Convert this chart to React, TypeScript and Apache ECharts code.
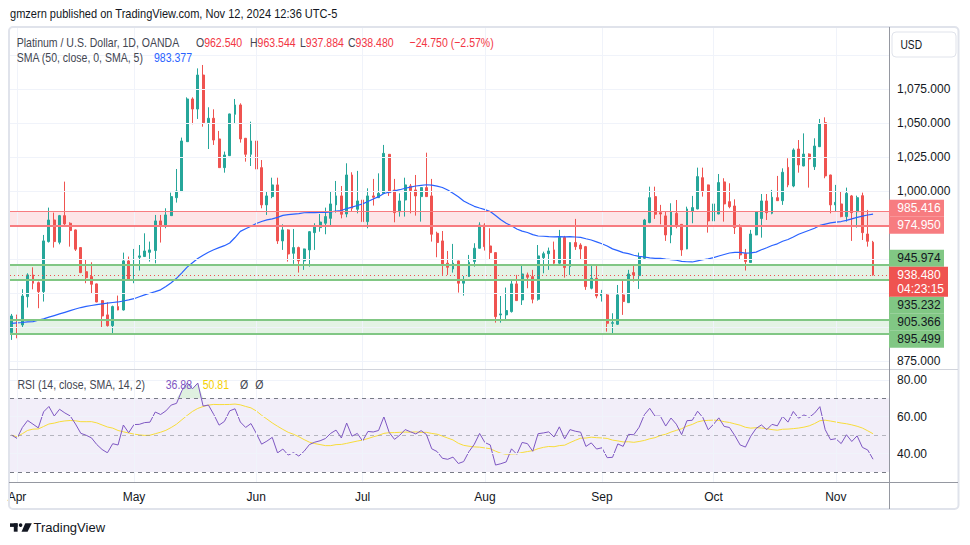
import React, { useEffect, useRef } from 'react';
import * as echarts from 'echarts';

// ---------- calendar (weekday trading sessions) ----------
function weekdays(from: string, to: string): string[] {
  const out: string[] = [];
  const d = new Date(from + 'T00:00:00Z');
  const end = new Date(to + 'T00:00:00Z');
  while (d <= end) {
    const wd = d.getUTCDay();
    if (wd !== 0 && wd !== 6) out.push(d.toISOString().slice(0, 10));
    d.setUTCDate(d.getUTCDate() + 1);
  }
  return out;
}
const dates = weekdays('2024-03-29', '2024-11-12');

// ---------- OHLC ----------
const open = [896.1, 907.8, 901.7, 922.5, 938.5, 932.8, 926.2, 963.0, 978.9, 962.5,
  982.1, 976.5, 971.6, 958.6, 940.9, 937.3, 931.9, 919.6, 909.1, 901.2,
  915.2, 912.7, 948.8, 934.8, 951.5, 952.0, 955.1, 956.4, 978.2, 974.8,
  982.1, 995.3, 999.8, 1036.5, 1067.9, 1060.5, 1085.5, 1050.5, 1053.7, 1038.5,
  1017.4, 1026.2, 1056.6, 1063.5, 1039.0, 1027.2, 1037.0, 1017.4, 990.0, 996.1,
  1004.7, 963.5, 971.6, 954.4, 958.6, 948.8, 956.9, 969.6, 973.3, 976.5,
  980.1, 990.0, 996.6, 983.3, 1012.0, 986.8, 993.6, 977.7, 996.6, 995.3,
  998.5, 1027.2, 1001.0, 985.0, 993.6, 1003.9, 1001.0, 996.1, 1002.7, 996.6,
  969.1, 963.5, 947.1, 942.9, 948.8, 932.4, 937.3, 948.3, 958.1, 975.2,
  959.8, 954.9, 909.1, 909.1, 911.5, 931.9, 920.1, 938.5, 937.3, 920.6,
  951.2, 954.1, 956.9, 947.1, 966.1, 944.6, 962.3, 960.5, 959.3, 928.7,
  936.0, 923.3, 923.8, 902.9, 902.2, 923.8, 918.1, 940.2, 938.0, 950.7,
  977.0, 996.1, 984.3, 981.9, 967.9, 983.8, 975.7, 957.6, 985.5, 987.0,
  1010.0, 1004.7, 978.2, 983.3, 1006.9, 992.4, 989.2, 973.3, 954.1, 947.6,
  967.9, 980.0, 992.9, 983.8, 995.3, 993.1, 1017.6, 1003.9, 1031.1, 1018.6,
  1027.4, 1018.1, 1032.8, 1050.5, 1012.0, 990.0, 990.7, 981.4, 996.6, 985.0,
  996.8, 968.6, 962.54];

const high = [909.8, 909.3, 928.0, 939.7, 944.1, 933.6, 967.9, 988.0, 984.3, 982.6,
  1007.1, 977.2, 971.9, 959.0, 949.5, 947.8, 932.2, 919.9, 918.4, 915.9,
  923.3, 954.9, 952.0, 957.6, 960.5, 969.1, 963.0, 982.6, 982.6, 987.5,
  999.0, 1016.4, 1039.5, 1069.1, 1069.1, 1090.4, 1092.9, 1061.8, 1060.3, 1044.4,
  1029.2, 1057.1, 1067.9, 1064.7, 1039.2, 1051.2, 1048.8, 1023.0, 999.8, 1010.0,
  1010.0, 975.7, 972.1, 972.3, 959.3, 957.8, 970.8, 976.5, 983.3, 988.0,
  1000.2, 1007.6, 1003.9, 1020.6, 1014.0, 1015.0, 997.3, 1002.2, 1009.1, 1013.2,
  1034.1, 1027.4, 1009.1, 998.5, 1010.0, 1005.4, 1012.0, 1002.9, 1028.4, 1009.1,
  970.3, 970.8, 956.1, 961.3, 949.0, 937.7, 953.2, 961.8, 977.2, 976.5,
  972.8, 955.1, 923.0, 929.2, 934.3, 938.5, 945.1, 940.2, 942.2, 960.5,
  955.6, 958.6, 963.0, 971.6, 967.2, 962.5, 979.7, 961.8, 959.8, 945.3,
  945.8, 927.5, 925.0, 910.3, 931.1, 935.3, 942.2, 945.8, 954.9, 979.7,
  1003.4, 1003.4, 990.0, 985.0, 991.2, 993.6, 975.9, 988.7, 996.6, 1017.4,
  1017.4, 1004.9, 1000.2, 1012.7, 1009.6, 1005.9, 994.1, 975.7, 957.6, 971.6,
  985.2, 998.0, 998.0, 1001.0, 1011.3, 1016.9, 1024.3, 1031.6, 1037.7, 1042.6,
  1027.9, 1039.0, 1053.2, 1054.4, 1012.2, 1004.7, 1000.2, 1002.7, 997.3, 996.8,
  999.0, 986.3, 963.544];

const low = [890.7, 891.9, 899.8, 914.5, 927.9, 914.0, 918.9, 962.3, 958.6, 961.0,
  975.2, 959.3, 956.1, 939.8, 932.4, 925.0, 918.4, 899.8, 900.5, 894.9,
  912.5, 912.3, 934.6, 932.4, 941.7, 951.8, 948.3, 947.0, 962.3, 972.8,
  981.9, 991.7, 999.6, 1036.3, 1049.3, 1053.2, 1047.5, 1031.1, 1034.1, 1017.2,
  1013.7, 1026.0, 1050.0, 1035.8, 1021.8, 1018.6, 1016.2, 987.5, 982.6, 994.9,
  961.3, 956.9, 948.3, 946.6, 940.2, 942.2, 944.6, 956.9, 970.3, 968.4,
  974.0, 984.3, 980.1, 980.9, 985.0, 983.8, 971.1, 972.8, 989.5, 995.1,
  998.3, 996.6, 977.2, 981.4, 981.4, 983.8, 982.1, 977.7, 995.9, 963.0,
  951.5, 938.5, 938.5, 940.2, 925.5, 923.3, 937.1, 944.6, 957.9, 956.4,
  950.2, 903.4, 903.4, 905.9, 910.8, 919.4, 916.4, 928.7, 917.6, 919.6,
  939.7, 942.2, 945.3, 946.6, 936.5, 938.5, 956.9, 950.2, 927.5, 927.9,
  921.3, 918.9, 896.8, 895.1, 901.7, 909.1, 917.9, 933.6, 928.2, 950.2,
  976.5, 979.7, 975.7, 963.5, 961.8, 972.8, 952.5, 957.4, 976.5, 986.8,
  996.1, 969.6, 975.7, 983.1, 977.7, 987.5, 968.6, 949.5, 941.7, 947.4,
  967.7, 965.9, 978.9, 983.1, 992.9, 990.0, 1003.0, 1003.0, 1013.7, 1018.4,
  1002.7, 1015.7, 1032.6, 1009.6, 983.8, 985.0, 980.9, 977.7, 963.5, 973.3,
  964.2, 959.3, 937.884];

const close = [908.3, 902.2, 923.0, 938.5, 932.4, 926.2, 963.5, 978.9, 963.0, 982.1,
  976.0, 971.1, 957.4, 940.2, 936.5, 931.6, 918.6, 908.3, 901.2, 915.2,
  912.7, 948.8, 934.8, 952.0, 952.5, 956.1, 956.9, 978.2, 974.8, 982.6,
  996.1, 1000.2, 1037.0, 1067.9, 1060.5, 1085.5, 1050.5, 1053.7, 1037.7, 1017.4,
  1026.7, 1056.9, 1063.5, 1038.5, 1027.2, 1037.0, 1016.4, 990.0, 996.6, 1004.7,
  963.5, 971.6, 953.9, 958.6, 948.8, 957.6, 970.3, 974.8, 977.4, 981.4,
  990.7, 996.6, 983.1, 1012.0, 987.5, 992.9, 977.7, 996.6, 995.6, 998.5,
  1027.9, 999.0, 984.3, 992.9, 1004.7, 1000.5, 996.6, 1002.7, 996.1, 968.4,
  962.3, 946.6, 944.1, 947.1, 932.4, 934.8, 947.8, 958.1, 975.2, 959.3,
  954.9, 907.8, 909.8, 912.3, 931.9, 919.6, 939.2, 936.8, 920.6, 952.5,
  954.1, 956.1, 947.1, 966.1, 943.9, 962.3, 959.3, 957.6, 929.9, 936.0,
  923.0, 925.0, 902.9, 903.4, 923.8, 918.9, 939.2, 938.5, 952.0, 978.9,
  995.3, 983.1, 983.3, 967.9, 985.0, 975.2, 956.9, 987.0, 988.0, 1010.8,
  1000.2, 978.2, 990.7, 1006.4, 990.7, 988.7, 973.3, 953.2, 948.3, 968.6,
  985.0, 992.9, 984.3, 995.6, 993.1, 1014.0, 1004.7, 1030.4, 1019.4, 1027.4,
  1023.8, 1033.3, 1049.5, 1011.3, 990.0, 991.9, 981.4, 998.5, 984.3, 995.3,
  969.6, 963.23, 938.48];

// SMA(50) as drawn before enough history exists in this window
const smaEarly = [902.9, 903.2, 903.5, 903.9, 904.2, 905.2, 906.2, 907.4, 908.6, 909.8,
  911.0, 912.2, 913.4, 914.5, 915.3, 916.0, 916.7, 917.2, 917.7, 918.2,
  918.6, 919.3, 920.1, 921.0, 922.4, 923.8, 925.0, 926.2, 927.5, 930.0,
  932.8, 936.0, 940.0, 944.2, 947.5, 950.5, 953.0, 955.2, 957.0, 958.6,
  960.0, 962.0, 966.0, 970.5, 972.5, 974.3, 976.3, 977.8, 979.0];

const SMA_LEN = 50;
const RSI_LEN = 14;
const RSI_MA_LEN = 14;
const RSI_SEED_GAIN = 6.5;
const RSI_SEED_LOSS = 6.5;

// ticks / levels
const priceGrid = [875, 900, 925, 950, 975, 1000, 1025, 1050, 1075, 1100];
const priceTicks = [875, 1000, 1025, 1050, 1075]; // the others are covered by the level badges
const rsiGrid = [80, 60, 40];
const rsiBands = [70, 50, 30];
const monthLabels = ['Apr', 'May', 'Jun', 'Jul', 'Aug', 'Sep', 'Oct', 'Nov'];
const resistanceZone = [974.95, 985.416];
const supportZoneHigh = [935.232, 945.974];
const supportZoneLow = [895.499, 905.366];

// legend texts as shown
const smaLegendValue = '983.377';
const rsiLegendValue = '36.88';
const rsiMaLegendValue = '50.81';
const countdown = '04:23:15';

// ---------- derived ----------
const sma = close.map((_, i) => {
  if (i < SMA_LEN - 1) return smaEarly[i];
  let s = 0;
  for (let k = i - SMA_LEN + 1; k <= i; k++) s += close[k];
  return s / SMA_LEN;
});

const rsi: number[] = (() => {
  let g = RSI_SEED_GAIN, l = RSI_SEED_LOSS;
  const out = [100 - 100 / (1 + g / l)];
  for (let i = 1; i < close.length; i++) {
    const d = close[i] - close[i - 1];
    g = (g * (RSI_LEN - 1) + Math.max(d, 0)) / RSI_LEN;
    l = (l * (RSI_LEN - 1) + Math.max(-d, 0)) / RSI_LEN;
    out.push(100 - 100 / (1 + g / l));
  }
  return out;
})();
const rsiMa = rsi.map((_, i) => {
  const a = Math.max(0, i - RSI_MA_LEN + 1);
  let s = 0;
  for (let k = a; k <= i; k++) s += rsi[k];
  return s / (i - a + 1);
});

const monthStarts: number[] = [];
for (let i = 1; i < dates.length; i++) {
  if (dates[i].slice(5, 7) !== dates[i - 1].slice(5, 7)) monthStarts.push(i);
}

// ---------- layout ----------
const FONT = "'Liberation Sans', Arial, sans-serif";
const PLOT_L = 10, PLOT_R = 889, MAIN_T = 28, MAIN_B = 369, RSI_B = 482;
const X_MIN = -0.32, X_MAX = 165.0;
const P_MIN = 869.3, P_MAX = 1120.1;
const R_MIN = 24.57, R_MAX = 85.92;
const UP = '#26a69a', DOWN = '#ef5350';
const GRID_C = '#f0f3fa';
const TEXT = '#131722';
const LEG_SX = 0.81;

const fmtPrice = (v: number) => {
  const s = v.toFixed(3);
  const [a, b] = s.split('.');
  return a.replace(/\B(?=(\d{3})+(?!\d))/g, ',') + '.' + b;
};

function buildOption(): any {
  const n = close.length;
  const candles = dates.map((_, i) => [i, open[i], close[i], low[i], high[i]]);
  return {
    animation: false,
    backgroundColor: '#ffffff',
    textStyle: { fontFamily: FONT },
    grid: [
      { left: PLOT_L, width: PLOT_R - PLOT_L, top: MAIN_T, height: MAIN_B - MAIN_T },
      { left: PLOT_L, width: PLOT_R - PLOT_L, top: MAIN_B, height: RSI_B - MAIN_B },
    ],
    xAxis: [
      { gridIndex: 0, type: 'value', min: X_MIN, max: X_MAX, show: false },
      {
        gridIndex: 1, type: 'value', min: X_MIN, max: X_MAX,
        axisLine: { show: false }, axisTick: { show: false }, splitLine: { show: false },
        axisLabel: {
          customValues: monthStarts,
          formatter: (v: number) => monthLabels[monthStarts.indexOf(Math.round(v))] || '',
          margin: 9, color: TEXT, fontSize: 12, fontFamily: FONT,
        },
      },
    ],
    yAxis: [
      {
        gridIndex: 0, type: 'value', position: 'right', min: P_MIN, max: P_MAX,
        axisLine: { show: false }, axisTick: { show: false }, splitLine: { show: false },
        axisLabel: { customValues: priceTicks, formatter: fmtPrice, margin: 8, color: TEXT, fontSize: 12, fontFamily: FONT },
      },
      {
        gridIndex: 1, type: 'value', position: 'right', min: R_MIN, max: R_MAX,
        axisLine: { show: false }, axisTick: { show: false }, splitLine: { show: false },
        axisLabel: { customValues: rsiGrid, formatter: (v: number) => v.toFixed(2), margin: 8, color: TEXT, fontSize: 12, fontFamily: FONT },
      },
    ],
    series: [
      {
        // grid lines (main pane)
        type: 'line', xAxisIndex: 0, yAxisIndex: 0, z: 0, silent: true,
        data: [[0, priceGrid[0]]], showSymbol: false, lineStyle: { opacity: 0 },
        markLine: {
          silent: true, symbol: 'none', animation: false, label: { show: false },
          lineStyle: { color: GRID_C, width: 1, type: 'solid' },
          data: [...priceGrid.map(v => ({ yAxis: v })), ...monthStarts.map(i => ({ xAxis: i }))],
        },
      },
      {
        type: 'candlestick', xAxisIndex: 0, yAxisIndex: 0, z: 2,
        encode: { x: 0, y: [1, 2, 3, 4] },
        data: candles, barWidth: 2.4,
        itemStyle: { color: UP, color0: DOWN, borderColor: UP, borderColor0: DOWN, borderWidth: 1 },
      },
      {
        // zones & current price line
        type: 'line', xAxisIndex: 0, yAxisIndex: 0, z: 3, silent: true,
        data: [[0, priceGrid[0]]], showSymbol: false, lineStyle: { opacity: 0 },
        markArea: {
          silent: true,
          data: [
            [{ yAxis: resistanceZone[0], itemStyle: { color: 'rgba(242,54,69,0.13)' } }, { yAxis: resistanceZone[1] }],
            [{ yAxis: supportZoneHigh[0], itemStyle: { color: 'rgba(76,175,80,0.15)' } }, { yAxis: supportZoneHigh[1] }],
            [{ yAxis: supportZoneLow[0], itemStyle: { color: 'rgba(76,175,80,0.15)' } }, { yAxis: supportZoneLow[1] }],
          ],
        },
        markLine: {
          silent: true, symbol: 'none', animation: false, label: { show: false },
          data: [
            { yAxis: resistanceZone[1], lineStyle: { color: '#f77c80', width: 1, type: 'solid' } },
            { yAxis: resistanceZone[0], lineStyle: { color: '#f77c80', width: 2, type: 'solid' } },
            { yAxis: supportZoneHigh[1], lineStyle: { color: '#81c784', width: 2, type: 'solid' } },
            { yAxis: supportZoneHigh[0], lineStyle: { color: '#81c784', width: 2, type: 'solid' } },
            { yAxis: supportZoneLow[1], lineStyle: { color: '#81c784', width: 2, type: 'solid' } },
            { yAxis: supportZoneLow[0], lineStyle: { color: '#81c784', width: 2, type: 'solid' } },
            { yAxis: close[n - 1], lineStyle: { color: DOWN, width: 1, type: [1, 3] } },
          ],
        },
      },
      {
        type: 'line', xAxisIndex: 0, yAxisIndex: 0, z: 4, silent: true,
        data: sma.map((v, i) => [i, v]), showSymbol: false,
        lineStyle: { color: '#2962ff', width: 1.2 },
      },
      {
        // RSI pane grid/bands
        type: 'line', xAxisIndex: 1, yAxisIndex: 1, z: 0, silent: true,
        data: [[0, 50]], showSymbol: false, lineStyle: { opacity: 0 },
        markArea: {
          silent: true,
          data: [[{ yAxis: rsiBands[2], itemStyle: { color: 'rgba(126,87,194,0.1)' } }, { yAxis: rsiBands[0] }]],
        },
        markLine: {
          silent: true, symbol: 'none', animation: false, label: { show: false },
          data: [
            ...rsiGrid.map(v => ({ yAxis: v, lineStyle: { color: GRID_C, width: 1, type: 'solid' } })),
            ...monthStarts.map(i => ({ xAxis: i, lineStyle: { color: GRID_C, width: 1, type: 'solid' } })),
            { yAxis: rsiBands[0], lineStyle: { color: '#787b86', width: 1, type: [4, 4] } },
            { yAxis: rsiBands[1], lineStyle: { color: 'rgba(120,123,134,0.5)', width: 1, type: [4, 4] } },
            { yAxis: rsiBands[2], lineStyle: { color: '#787b86', width: 1, type: [4, 4] } },
          ],
        },
      },
      {
        // overbought fill
        type: 'line', xAxisIndex: 1, yAxisIndex: 1, z: 1, silent: true,
        data: rsi.map((v, i) => [i, Math.max(v, rsiBands[0])]), showSymbol: false,
        lineStyle: { width: 0, opacity: 0 },
        areaStyle: { origin: rsiBands[0], color: 'rgba(76,175,80,0.25)' },
      },
      {
        type: 'line', xAxisIndex: 1, yAxisIndex: 1, z: 3, silent: true,
        data: rsiMa.map((v, i) => [i, v]), showSymbol: false,
        lineStyle: { color: '#f7dc3a', width: 1 },
      },
      {
        type: 'line', xAxisIndex: 1, yAxisIndex: 1, z: 4, silent: true,
        data: rsi.map((v, i) => [i, v]), showSymbol: false,
        lineStyle: { color: '#7e57c2', width: 1 },
      },
    ],
  };
}

function txt(x: number, y: number, text: string, fill: string, size = 13, sx = 1): any {
  return {
    type: 'text', x, y, scaleX: sx, silent: true, z: 200,
    style: { text, fill, font: `${size}px ${FONT}`, verticalAlign: 'middle', align: 'left' },
  };
}

function richTxt(x: number, y: number, label: string, value: string, labelColor: string, valueColor: string): any {
  return {
    type: 'text', x, y, scaleX: LEG_SX, silent: true, z: 200,
    style: {
      text: `{a|${label}}{b|${value}}`, verticalAlign: 'middle', align: 'left',
      rich: {
        a: { fill: labelColor, fontSize: 13, fontFamily: FONT },
        b: { fill: valueColor, fontSize: 13, fontFamily: FONT },
      },
    },
  };
}

function buildGraphics(chart: any): any[] {
  const n = close.length;
  const yOf = (v: number) => chart.convertToPixel({ yAxisIndex: 0 }, v) as number;
  const els: any[] = [];
  const LEG = '#434651';
  const RED = '#f23645';

  // frame & separators
  els.push({ type: 'rect', silent: true, z: 150, shape: { x: 9, y: 27, width: 949.5, height: 482, r: 4 },
    style: { fill: 'none', stroke: '#e0e3eb', lineWidth: 2 } });
  els.push({ type: 'line', silent: true, z: 151, shape: { x1: 9, y1: MAIN_B + 0.5, x2: 958, y2: MAIN_B + 0.5 },
    style: { stroke: '#d1d4dc', lineWidth: 1 } });
  els.push({ type: 'line', silent: true, z: 151, shape: { x1: 9, y1: RSI_B + 0.5, x2: 958, y2: RSI_B + 0.5 },
    style: { stroke: '#9598a1', lineWidth: 1 } });
  els.push({ type: 'line', silent: true, z: 151, shape: { x1: PLOT_R + 0.5, y1: 27, x2: PLOT_R + 0.5, y2: 509 },
    style: { stroke: '#9598a1', lineWidth: 1 } });

  // USD button
  els.push({ type: 'rect', silent: true, z: 160, shape: { x: 892, y: 32, width: 64, height: 25, r: 4 },
    style: { fill: '#ffffff', stroke: '#e0e3eb', lineWidth: 1 } });
  els.push(txt(900.5, 44.7, 'USD', TEXT, 12, 0.85));

  // header
  els.push(txt(10, 13.5, 'gmzern published on TradingView.com, Nov 12, 2024 12:36 UTC-5', TEXT, 13, 0.85));

  // legend line 1
  const chg = close[n - 1] - close[n - 2];
  const pct = (chg / close[n - 2]) * 100;
  const sgn = (v: number) => (v < 0 ? '\u2212' : '+') + Math.abs(v).toFixed(3);
  els.push(txt(16.7, 42.7, 'Platinum / U.S. Dollar, 1D, OANDA', LEG, 13, LEG_SX));
  els.push(richTxt(196, 42.7, 'O', open[n - 1].toFixed(3), LEG, RED));
  els.push(richTxt(250, 42.7, 'H', high[n - 1].toFixed(3), LEG, RED));
  els.push(richTxt(300, 42.7, 'L', low[n - 1].toFixed(3), LEG, RED));
  els.push(richTxt(348, 42.7, 'C', close[n - 1].toFixed(3), LEG, RED));
  els.push(txt(409.5, 42.7, `${sgn(chg)} (${(pct < 0 ? '\u2212' : '+') + Math.abs(pct).toFixed(2)}%)`, RED, 13, LEG_SX));
  // legend line 2
  els.push(txt(16.7, 57.3, 'SMA (50, close, 0, SMA, 5)', LEG, 13, LEG_SX));
  els.push(txt(154, 57.3, smaLegendValue, '#2962ff', 13, LEG_SX));
  // RSI legend
  els.push(txt(17.5, 384.7, 'RSI (14, close, SMA, 14, 2)', LEG, 13, LEG_SX));
  els.push(txt(165.7, 384.7, rsiLegendValue, '#7e57c2', 13, LEG_SX));
  els.push(txt(202.7, 384.7, rsiMaLegendValue, '#f5d000', 13, LEG_SX));
  els.push(txt(240, 384.7, '\u00d8', LEG, 13, LEG_SX));
  els.push(txt(255.3, 384.7, '\u00d8', LEG, 13, LEG_SX));

  // price scale badges (stacked like the reference)
  const LH = 17;
  const lastY = yOf(close[n - 1]);
  const pTop = lastY - 8.25, pBot = lastY + 21.75;
  const above = [
    { v: supportZoneHigh[1], bg: '#81c784', fg: TEXT },
    { v: resistanceZone[0], bg: '#f77c80', fg: '#ffffff' },
    { v: resistanceZone[1], bg: '#f77c80', fg: '#ffffff' },
  ];
  let lim = pTop;
  for (const b of above) {
    const c = Math.min(yOf(b.v), lim - LH / 2);
    els.push({ type: 'rect', silent: true, z: 170, shape: { x: PLOT_R, y: c - LH / 2, width: 55, height: LH }, style: { fill: b.bg } });
    els.push({ ...txt(897.3, c, b.v.toFixed(3), b.fg, 12), z: 171 });
    lim = c - LH / 2;
  }
  const below = [
    { v: supportZoneHigh[0], bg: '#81c784', fg: TEXT },
    { v: supportZoneLow[1], bg: '#81c784', fg: TEXT },
    { v: supportZoneLow[0], bg: '#81c784', fg: TEXT },
  ];
  lim = pBot;
  for (const b of below) {
    const c = Math.max(yOf(b.v), lim + LH / 2);
    els.push({ type: 'rect', silent: true, z: 170, shape: { x: PLOT_R, y: c - LH / 2, width: 55, height: LH }, style: { fill: b.bg } });
    els.push({ ...txt(897.3, c, b.v.toFixed(3), b.fg, 12), z: 171 });
    lim = c + LH / 2;
  }
  els.push({ type: 'rect', silent: true, z: 172, shape: { x: PLOT_R, y: pTop, width: 59, height: pBot - pTop }, style: { fill: DOWN } });
  els.push({ ...txt(897.3, lastY, close[n - 1].toFixed(3), '#ffffff', 12), z: 173 });
  els.push({ ...txt(897.3, lastY + 14.3, countdown, '#ffffff', 12), z: 173 });

  // TradingView logo + wordmark
  const LOGO = '#131722';
  els.push({ type: 'rect', silent: true, z: 200, shape: { x: 10, y: 523.3, width: 7.6, height: 3.6 }, style: { fill: LOGO } });
  els.push({ type: 'rect', silent: true, z: 200, shape: { x: 13.8, y: 523.3, width: 3.8, height: 8.4 }, style: { fill: LOGO } });
  els.push({ type: 'circle', silent: true, z: 200, shape: { cx: 20.6, cy: 525.1, r: 1.8 }, style: { fill: LOGO } });
  els.push({ type: 'polygon', silent: true, z: 200, shape: { points: [[25.3, 523.3], [31.8, 523.3], [27.6, 531.7], [21.5, 531.7]] }, style: { fill: LOGO } });
  els.push(txt(33.5, 527.7, 'TradingView', LOGO, 13));

  return els;
}

export default function App() {
  const ref = useRef<HTMLDivElement>(null);
  useEffect(() => {
    if (!ref.current) return;
    const chart = echarts.init(ref.current, null, { renderer: 'svg', width: 970, height: 545 });
    chart.setOption(buildOption());
    chart.setOption({ graphic: { elements: buildGraphics(chart) } });
    return () => chart.dispose();
  }, []);
  return (
    <div
      ref={ref}
      style={{ position: 'absolute', left: 0, top: 0, width: 970, height: 545, background: '#ffffff' }}
    />
  );
}
